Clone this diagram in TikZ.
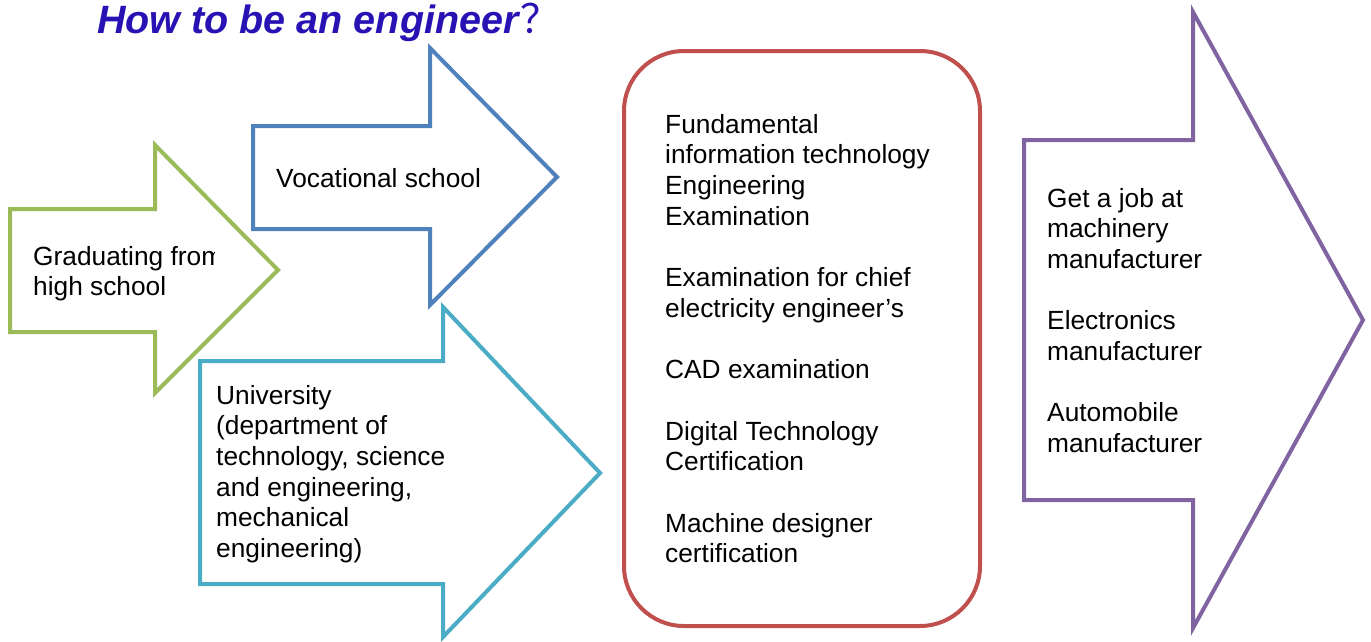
\documentclass[tikz,border=0pt]{standalone}
\usepackage{fontspec}
\setmainfont{Liberation Sans}
\newfontfamily\cjkfont{Noto Sans CJK SC}
\definecolor{cgreen}{RGB}{155,187,89}
\definecolor{cblue}{RGB}{79,129,189}
\definecolor{cteal}{RGB}{75,172,198}
\definecolor{cred}{RGB}{192,80,77}
\definecolor{cpurple}{RGB}{128,100,162}
\definecolor{ctitle}{RGB}{40,18,180}
\newcommand{\mylines}[1]{\begin{tabular}[t]{@{}l@{}}#1\end{tabular}}
\begin{document}
\begin{tikzpicture}[x=1pt,y=-1pt,
  arrowshape/.style={line width=4pt, line join=miter, fill=white, draw=#1},
  bodytext/.style={inner sep=0pt, anchor=base west, font=\fontsize{26.3}{30.7}\selectfont}]
\useasboundingbox (0,0) rectangle (1371,641);
% title
\node[inner sep=0pt, anchor=base west, text=ctitle, font=\fontsize{39.5}{42}\selectfont\bfseries\itshape] (title) at (97,33) {How to be an engineer\hspace{2pt}{\cjkfont\mdseries\upshape\fontsize{40}{42}\selectfont ？}};
% arrows
\draw[arrowshape=cgreen] (10,209) -- (155,209) -- (155,145) -- (278,270) -- (155,393) -- (155,332) -- (10,332) -- cycle;
\draw[arrowshape=cblue] (253,126) -- (430,126) -- (430,48) -- (557,177) -- (430,305) -- (430,229) -- (253,229) -- cycle;
\draw[arrowshape=cteal] (200,361) -- (443,361) -- (443,307) -- (600,473) -- (443,637) -- (443,584) -- (200,584) -- cycle;
\draw[line width=4pt, draw=cred, fill=white, rounded corners=60pt] (624,51) rectangle (980,626);
\draw[arrowshape=cpurple] (1024,140) -- (1193,140) -- (1193,12) -- (1363,320) -- (1193,628) -- (1193,500) -- (1024,500) -- cycle;
% texts
\begin{scope}
\clip (0,0) rectangle (214,641);
\node[bodytext] (grad) at (33,265) {\mylines{Graduating from\\high school}};
\end{scope}
\node[bodytext] (voc) at (276,187) {Vocational school};
\node[bodytext] (uni) at (216,404) {\mylines{University\\(department of\\technology, science\\and engineering,\\mechanical\\engineering)}};
\node[bodytext] (exam) at (665,133) {\mylines{Fundamental\\information technology\\Engineering\\Examination\\ \\Examination for chief\\electricity engineer’s\\ \\CAD examination\\ \\Digital Technology\\Certification\\ \\Machine designer\\certification}};
\node[bodytext] (job) at (1047,207) {\mylines{Get a job at\\machinery\\manufacturer\\ \\Electronics\\manufacturer\\ \\Automobile\\manufacturer}};
\end{tikzpicture}
\end{document}
